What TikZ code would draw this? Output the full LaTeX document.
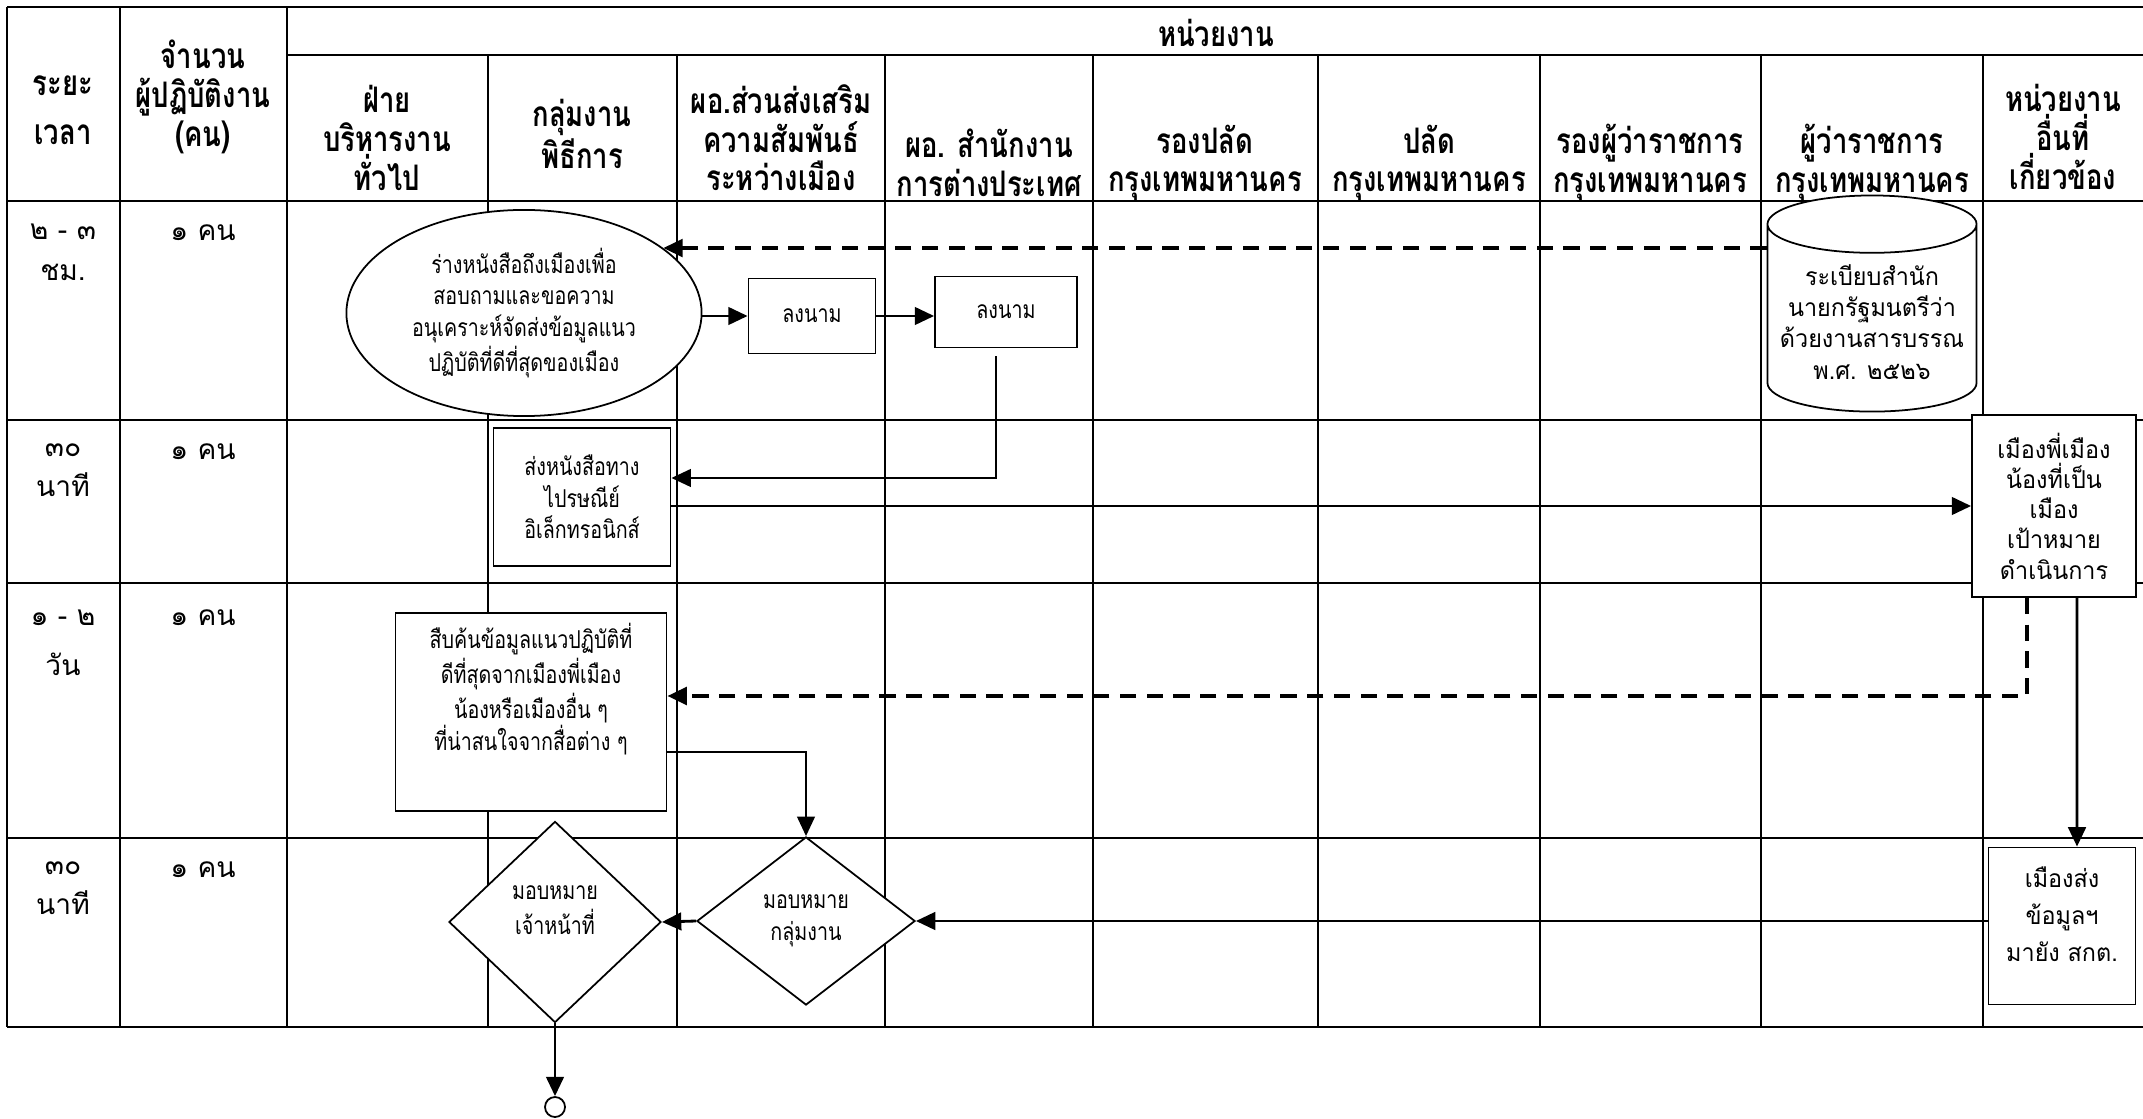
\documentclass[tikz,border=0pt]{standalone}
\usepackage{fontspec}
\newfontfamily\thaihead[Script=Thai,FakeStretch=0.78]{Loma}
\newfontfamily\thaibody[Script=Thai,FakeStretch=0.8]{Loma}
\newfontfamily\thaiwide[Script=Thai,FakeStretch=0.95]{Loma}
\newfontfamily\thairow[Script=Thai]{Loma}
\usetikzlibrary{shapes.geometric,arrows.meta}

\begin{document}
\begin{tikzpicture}[x=0.01cm,y=-0.01cm,>={Triangle[length=5.5pt,width=5pt]},
    grid/.style={line width=0.8pt},
    head/.style={font=\thaihead\bfseries\fontsize{10}{11}\selectfont,align=center},
    rowtxt/.style={font=\thairow\fontsize{8}{11.5}\selectfont,align=center,anchor=north},
    box/.style={draw,fill=white,line width=0.5pt,font=\thaibody\fontsize{7}{9}\selectfont,align=center,inner sep=1pt},
    wide/.style={box,font=\thaiwide\fontsize{7}{8.9}\selectfont},
    flow/.style={->,line width=0.8pt},
    dashflow/.style={flow,line width=1pt,dash pattern=on 4.6pt off 3pt}]
    \useasboundingbox(0,0)rectangle(2143,1119);
    \draw[grid](7,7)--(2143,7) (287,55)--(2143,55);
    \foreach \y in {201,420,583,838,1027}\draw[grid](7,\y)--(2143,\y);
    \foreach \x in {7,120,287}\draw[grid](\x,7)--(\x,1027);
    \foreach \x in {488,677,885,1093,1318,1540,1761,1983}\draw[grid](\x,55)--(\x,1027);

    \node[head](unit)at(1216,33){หน่วยงาน};
    \node[head](h1)at(63,110){ระยะ\\[3pt]เวลา};
    \node[head](h2)at(203,97){จำนวน\\ผู้ปฏิบัติงาน\\(คน)};
    \node[head](h3)at(387,138){ฝ่าย\\บริหารงาน\\ทั่วไป};
    \node[head](h4)at(582,134){กลุ่มงาน\\พิธีการ};
    \node[head](h5)at(781,138){ผอ.ส่วนส่งเสริม\\ความสัมพันธ์\\ระหว่างเมือง};
    \node[head](h6)at(989,163){ผอ. สำนักงาน\\การต่างประเทศ};
    \node[head](h7)at(1205,163){รองปลัด\\กรุงเทพมหานคร};
    \node[head](h8)at(1429,163){ปลัด\\กรุงเทพมหานคร};
    \node[head](h9)at(1650,163){รองผู้ว่าราชการ\\กรุงเทพมหานคร};
    \node[head](h10)at(1872,163){ผู้ว่าราชการ\\กรุงเทพมหานคร};
    \node[head](h11)at(2063,137){หน่วยงาน\\อื่นที่\\เกี่ยวข้อง};

    \node[rowtxt](t1)at(63,212){๒ - ๓\\ชม.};
    \node[rowtxt](n1)at(203,212){๑ คน};
    \node[rowtxt](t2)at(63,431){๓๐\\นาที};
    \node[rowtxt](n2)at(203,431){๑ คน};
    \node[rowtxt](t3)at(63,597){๑ - ๒\\[3pt]วัน};
    \node[rowtxt](n3)at(203,597){๑ คน};
    \node[rowtxt](t4)at(63,849){๓๐\\นาที};
    \node[rowtxt](n4)at(203,849){๑ คน};

    \node[box,ellipse,minimum width=3.55cm,minimum height=2.06cm,inner sep=0pt](draft)at(524,313){ร่างหนังสือถึงเมืองเพื่อ\\สอบถามและขอความ\\อนุเคราะห์จัดส่งข้อมูลแนว\\ปฏิบัติที่ดีที่สุดของเมือง};
    \node[box,minimum width=1.27cm,minimum height=0.75cm](sign1)at(812,316){ลงนาม};
    \node[box,minimum width=1.42cm,minimum height=0.71cm](sign2)at(1006,312){ลงนาม};
    \node[wide,cylinder,shape border rotate=90,aspect=0.3,minimum width=2.09cm,minimum height=2.16cm](rule)at(1872,322){\raisebox{-0.1cm}[0pt][0pt]{\begin{tabular}{@{}c@{}}ระเบียบสำนัก\\นายกรัฐมนตรีว่า\\ด้วยงานสารบรรณ\\พ.ศ. ๒๕๒๖\end{tabular}}};
    \node[box,minimum width=1.77cm,minimum height=1.38cm](post)at(582,497){ส่งหนังสือทาง\\ไปรษณีย์\\อิเล็กทรอนิกส์};
    \node[wide,font=\thaiwide\fontsize{7}{8.6}\selectfont,minimum width=1.64cm,minimum height=1.82cm](partner)at(2054,506){เมืองพี่เมือง\\น้องที่เป็น\\เมือง\\เป้าหมาย\\ดำเนินการ};
    \node[box,inner sep=0.1cm](search)at(531,712){\parbox[c][1.78cm][t]{2.51cm}{\centering สืบค้นข้อมูลแนวปฏิบัติที่\\ดีที่สุดจากเมืองพี่เมือง\\น้องหรือเมืองอื่น ๆ\\ที่น่าสนใจจากสื่อต่าง ๆ}};
    \node[box,diamond,minimum width=2.12cm,minimum height=2.01cm,inner sep=0pt](staff)at(555,922){\raisebox{0.05cm}[0pt][0pt]{\begin{tabular}{@{}c@{}}มอบหมาย\\เจ้าหน้าที่\end{tabular}}};
    \node[box,diamond,minimum width=2.18cm,minimum height=1.68cm,inner sep=0pt](group)at(806,921){มอบหมาย\\กลุ่มงาน};
    \node[wide,font=\thaiwide\fontsize{7}{10.5}\selectfont,minimum width=1.47cm,minimum height=1.57cm](citysend)at(2062,926){\raisebox{0.03cm}[0pt][0pt]{\begin{tabular}{@{}c@{}}เมืองส่ง\\ข้อมูลฯ\\มายัง สกต.\end{tabular}}};
    \node[draw,circle,line width=0.5pt,minimum size=0.2cm,inner sep=0pt](stop)at(555,1107){};

    \draw[flow](draft.east|-sign1)--(sign1);
    \draw[flow](sign1)--(sign1-|sign2.west);
    \draw[dashflow](rule.west|-draft.25)--(draft.25);
    \draw[flow,line width=0.6pt]([xshift=-0.1cm,yshift=-0.08cm]sign2.south)|-([yshift=0.19cm]post.east);
    \draw[flow](post.east|-partner.west)--(partner.west);
    \draw[dashflow]([xshift=-0.27cm]partner.south)|-([yshift=0.16cm]search.east);
    \draw[flow]([xshift=0.23cm]partner.south)--([xshift=0.15cm]citysend.north);
    \draw[flow,line width=0.6pt]([yshift=-0.4cm]search.east)-|(group.north);
    \draw[flow](citysend.west|-group.east)--(group.east);
    \draw[flow](group.west)--(staff.east);
    \draw[flow](staff.south)--(stop.north);
\end{tikzpicture}
\end{document}
